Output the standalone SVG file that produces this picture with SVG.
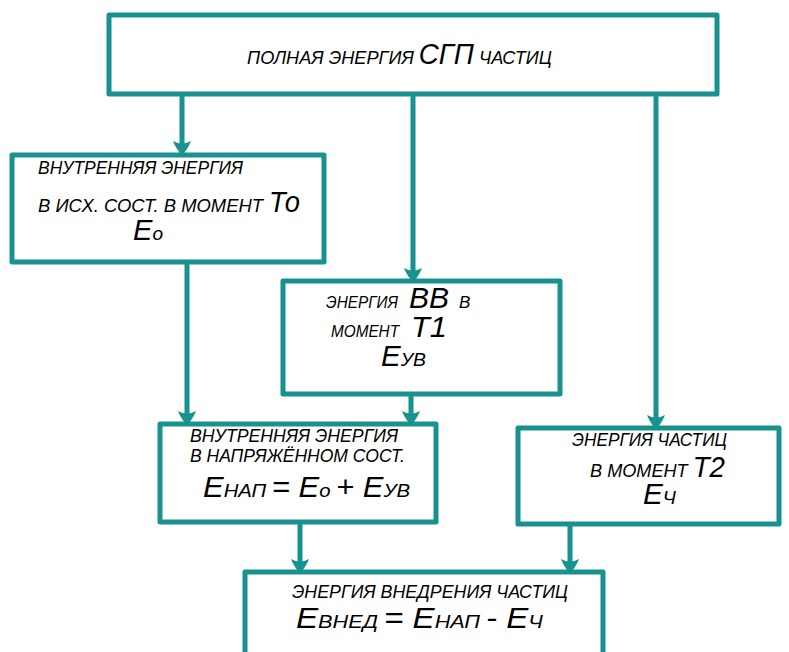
<svg xmlns="http://www.w3.org/2000/svg" width="789" height="652" viewBox="0 0 789 652">
<defs>
<style>
.box{fill:#fff;stroke:#17928f;stroke-width:5;stroke-linejoin:round}
.con{fill:none;stroke:#17928f;stroke-width:5}
text{font-family:"Liberation Sans",Arial,sans-serif;font-style:italic;fill:#000;font-size:19px}
.b{font-size:29px}
.s{font-size:17px}
</style>
<marker id="ah" markerUnits="userSpaceOnUse" markerWidth="14" markerHeight="18" refX="13" refY="9" viewBox="0 0 14 18" orient="auto">
<path d="M0,0 Q8,3 14,9 Q8,15 0,18 Q5,9 0,0 Z" fill="#17928f"/>
</marker>
</defs>
<rect width="789" height="652" fill="#fff"/>
<g id="connectors">
<line class="con" x1="182" y1="94" x2="182" y2="154" marker-end="url(#ah)"/>
<line class="con" x1="413" y1="94" x2="413" y2="281" marker-end="url(#ah)"/>
<line class="con" x1="656" y1="94" x2="656" y2="428" marker-end="url(#ah)"/>
<line class="con" x1="187" y1="262" x2="187" y2="424" marker-end="url(#ah)"/>
<line class="con" x1="411" y1="394" x2="411" y2="424" marker-end="url(#ah)"/>
<line class="con" x1="300" y1="522" x2="300" y2="572" marker-end="url(#ah)"/>
<line class="con" x1="570" y1="524" x2="570" y2="572" marker-end="url(#ah)"/>
</g>
<g id="n-top">
<rect class="box" x="109" y="15" width="608" height="79"/>
<text x="247" y="64" textLength="305" lengthAdjust="spacingAndGlyphs">ПОЛНАЯ  ЭНЕРГИЯ <tspan class="b">СГП</tspan> ЧАСТИЦ</text>
</g>
<g id="n-left">
<rect class="box" x="12" y="155" width="312" height="107"/>
<text x="38" y="174" textLength="205" lengthAdjust="spacingAndGlyphs">ВНУТРЕННЯЯ  ЭНЕРГИЯ</text>
<text x="38" y="212" textLength="225" lengthAdjust="spacingAndGlyphs">В  ИСХ. СОСТ.  В МОМЕНТ</text>
<text x="269" y="212" class="b" textLength="31" lengthAdjust="spacingAndGlyphs">То</text>
<text x="133" y="240" textLength="30" lengthAdjust="spacingAndGlyphs"><tspan class="b">Е</tspan>о</text>
</g>
<g id="n-mid">
<rect class="box" x="283" y="281" width="277" height="113"/>
<text x="326" y="308" class="s" textLength="72" lengthAdjust="spacingAndGlyphs">ЭНЕРГИЯ</text>
<text x="409" y="308" class="b" textLength="40" lengthAdjust="spacingAndGlyphs">ВВ</text>
<text x="459" y="308" class="s">В</text>
<text x="331" y="337" class="s" textLength="68" lengthAdjust="spacingAndGlyphs">МОМЕНТ</text>
<text x="411" y="337" class="b" textLength="36" lengthAdjust="spacingAndGlyphs">Т1</text>
<text x="381" y="366" textLength="45" lengthAdjust="spacingAndGlyphs"><tspan class="b">Е</tspan>УВ</text>
</g>
<g id="n-midlow">
<rect class="box" x="160" y="424" width="276" height="98"/>
<text x="190" y="442" textLength="208" lengthAdjust="spacingAndGlyphs">ВНУТРЕННЯЯ  ЭНЕРГИЯ</text>
<text x="190" y="462" textLength="215" lengthAdjust="spacingAndGlyphs">В  НАПРЯЖЁННОМ СОСТ.</text>
<text x="203" y="497" textLength="207" lengthAdjust="spacingAndGlyphs"><tspan class="b">Е</tspan>НАП <tspan class="b">= Е</tspan>о <tspan class="b">+ Е</tspan>УВ</text>
</g>
<g id="n-right">
<rect class="box" x="518" y="428" width="261" height="96"/>
<text x="572" y="446" textLength="155" lengthAdjust="spacingAndGlyphs">ЭНЕРГИЯ  ЧАСТИЦ</text>
<text x="590" y="477" textLength="135" lengthAdjust="spacingAndGlyphs">В  МОМЕНТ <tspan class="b">Т2</tspan></text>
<text x="643" y="504" textLength="33" lengthAdjust="spacingAndGlyphs"><tspan class="b">Е</tspan>Ч</text>
</g>
<g id="n-bottom">
<rect class="box" x="245" y="572" width="358" height="92"/>
<text x="292" y="598" textLength="276" lengthAdjust="spacingAndGlyphs">ЭНЕРГИЯ  ВНЕДРЕНИЯ  ЧАСТИЦ</text>
<text x="296" y="628" textLength="247" lengthAdjust="spacingAndGlyphs"><tspan class="b">Е</tspan>ВНЕД <tspan class="b">=  Е</tspan>НАП <tspan class="b">- Е</tspan>Ч</text>
</g>
</svg>
